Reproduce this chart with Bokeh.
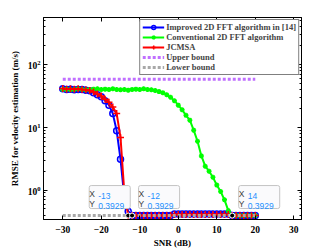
from bokeh.plotting import figure
from bokeh.models import (Range1d, FixedTicker, LinearAxis, LogAxis, Label,
                          CustomJSTickFormatter)
from bokeh.embed import file_html
from bokeh.resources import INLINE

# ---------------- data ----------------
snr = list(range(-30, 21))

improved = [41, 40, 40.5, 39.5, 40, 40, 39, 38, 35.5, 33, 30.5, 26.5, 22.5, 16.5, 8.8, 3.1, 0.75, 0.46, 0.3929,
            0.3929, 0.3929, 0.3929, 0.3929, 0.3929, 0.3929, 0.3929, 0.3929, 0.3929, 0.3929,
            0.415, 0.415, 0.415, 0.415, 0.415, 0.415, 0.415, 0.415, 0.415, 0.415, 0.415, 0.415, 0.415, 0.415, 0.415,
            0.3929, 0.3929, 0.3929, 0.3929, 0.3929, 0.3929, 0.3929]

conventional = [40, 40.5, 39.5, 40, 41, 40, 39.5, 40, 40.5, 41, 40, 40.5, 40, 41, 40, 39.5, 40, 39, 40,
                40.5, 40, 41, 40, 39.5, 38.5, 37, 35.5, 33, 30, 26.5, 22.5, 19, 15.5, 13, 9, 6, 3.5,
                2.4, 2.0, 1.6, 1.2, 0.95, 0.7, 0.47,
                0.3929, 0.3929, 0.3929, 0.3929, 0.3929, 0.3929, 0.3929]

jcmsa = [41.5, 40.5, 41, 40.5, 41, 40, 39.5, 38.5, 36.5, 34, 31.5, 28, 25, 21, 16.5, 6.9, 0.9, 0.3929,
         0.3929, 0.3929, 0.3929, 0.3929, 0.3929, 0.3929, 0.3929, 0.3929, 0.3929, 0.3929, 0.3929,
         0.41, 0.41, 0.41, 0.41, 0.41, 0.41, 0.41, 0.41, 0.41, 0.41, 0.41, 0.41, 0.41, 0.41, 0.41,
         0.3929, 0.3929, 0.3929, 0.3929, 0.3929, 0.3929, 0.3929]

bound_x = [-30, 20]
upper_bound = [58, 58]
lower_bound = [0.3929, 0.3929]

tip_x = [-13, -12, 14]
tip_y = [0.3929, 0.3929, 0.3929]

x_ticks = [-30, -20, -10, 0, 10, 20, 30]
y_major = [1, 10, 100]
y_minor = [0.4, 0.5, 0.6, 0.7, 0.8, 0.9, 2, 3, 4, 5, 6, 7, 8, 9,
           20, 30, 40, 50, 60, 70, 80, 90, 200, 300, 400, 500]

x_lim = (-35, 32)
y_lim = (0.34, 560)

labels = ["Improved 2D FFT algorithm in [14]", "Conventional 2D FFT algorithm", "JCMSA",
          "Upper bound", "Lower bound"]
x_title = "SNR (dB)"
y_title = "RMSE for velocity estimation (m/s)"

# ---------------- figure ----------------
SERIF = "Liberation Serif"
SANS = "Liberation Sans"

p = figure(width=332, height=250, x_range=Range1d(*x_lim), y_range=Range1d(*y_lim),
           y_axis_type="log", output_backend="svg", toolbar_location=None,
           min_border_left=43, min_border_right=31, min_border_top=17, min_border_bottom=0)
p.background_fill_color = "white"
p.border_fill_color = "white"
p.outline_line_color = "black"
p.outline_line_width = 1
p.xgrid.visible = False
p.ygrid.visible = False

def style_axis(ax):
    ax.axis_line_color = "black"
    ax.major_tick_in = 4
    ax.major_tick_out = 0
    ax.minor_tick_in = 2
    ax.minor_tick_out = 0
    ax.major_tick_line_color = "black"
    ax.minor_tick_line_color = "black"
    ax.major_label_text_font = SERIF
    ax.major_label_text_font_style = "bold"
    ax.major_label_text_font_size = "9.5px"
    ax.major_label_text_color = "black"
    ax.axis_label_text_font = SERIF
    ax.axis_label_text_font_style = "bold"
    ax.axis_label_text_font_size = "9px"
    ax.axis_label_text_color = "black"

xa = p.xaxis[0]
ya = p.yaxis[0]
style_axis(xa)
style_axis(ya)
xa.ticker = FixedTicker(ticks=x_ticks)
ya.ticker = FixedTicker(ticks=y_major, minor_ticks=y_minor)
xa.axis_label = x_title
ya.axis_label = y_title
xa.major_label_standoff = 6
xa.axis_label_standoff = 2
ya.major_label_standoff = 3
ya.axis_label_standoff = 5

blank = CustomJSTickFormatter(code="return ''")
top_ax = LinearAxis(ticker=FixedTicker(ticks=x_ticks), formatter=blank)
right_ax = LogAxis(ticker=FixedTicker(ticks=y_major, minor_ticks=y_minor), formatter=blank)
for ax in (top_ax, right_ax):
    style_axis(ax)
    ax.major_label_standoff = 0
    ax.major_label_text_font_size = "0px"
p.add_layout(top_ax, "above")
p.add_layout(right_ax, "right")

# ---------------- series ----------------
p.line(snr, improved, color="#0000ff", line_width=2, legend_label=labels[0])
p.scatter(snr, improved, marker="circle", size=6, fill_color=None, line_color="#0000ff",
          line_width=1.5, legend_label=labels[0])

p.line(snr, conventional, color="#00ff00", line_width=2, legend_label=labels[1])
p.scatter(snr, conventional, marker="asterisk", size=5, line_color="#00ff00",
          line_width=1.5, legend_label=labels[1])

p.line(snr, jcmsa, color="#ff0000", line_width=2, legend_label=labels[2])
p.scatter(snr, jcmsa, marker="cross", size=7, line_color="#ff0000",
          line_width=1.5, legend_label=labels[2])

p.line(bound_x, upper_bound, color="#c070ff", line_width=3, line_dash="3 2",
       legend_label=labels[3])
p.line(bound_x, lower_bound, color="#a8a8a8", line_width=3, line_dash="3 2",
       legend_label=labels[4])

# datatip markers
p.scatter(tip_x, tip_y, marker="circle", size=5, fill_color="black", line_color="white",
          line_width=1)

# ---------------- legend ----------------
lg = p.legend[0]
lg.location = "top_right"
lg.margin = 2
lg.padding = 2
lg.spacing = 0
lg.glyph_width = 22
lg.glyph_height = 10
lg.label_height = 10
lg.label_standoff = 2
lg.label_text_font = SERIF
lg.label_text_font_style = "bold"
lg.label_text_font_size = "8.5px"
lg.label_text_line_height = 1.0
lg.border_line_color = "black"
lg.border_line_width = 1
lg.background_fill_color = "white"
lg.background_fill_alpha = 1

# ---------------- datatips ----------------
TIP_FS = "8.5px"
TIP_BG = "#fafafc"
ROW = 9.5         # row spacing in px
KEY_W = 9         # width of "X " / "Y " in px
tip_dx = [-39, 6.5, 6.5]
tip_dy = [7, 7, 7]
for tx, ty, dx, dy in zip(tip_x, tip_y, tip_dx, tip_dy):
    common = dict(x=tx, y=ty, x_units="data", y_units="data", text_font=SANS,
                  text_font_size=TIP_FS, text_align="left", text_baseline="bottom")
    ytxt = f"{ty:.4f}"
    # box (text drawn in the box colour, so only the box shows)
    p.add_layout(Label(text="Y " + ytxt, text_color=TIP_BG, x_offset=dx, y_offset=dy,
                       background_fill_color=TIP_BG, border_line_color="#c4c4c4",
                       border_line_width=1, border_radius=2,
                       padding=dict(left=4, right=3, top=11, bottom=2), **common))
    p.add_layout(Label(text="X", text_color="#404040", x_offset=dx, y_offset=dy + ROW, **common))
    p.add_layout(Label(text=f"{tx:g}", text_color="#1e90ff", x_offset=dx + KEY_W,
                       y_offset=dy + ROW, **common))
    p.add_layout(Label(text="Y", text_color="#404040", x_offset=dx, y_offset=dy, **common))
    p.add_layout(Label(text=ytxt, text_color="#1e90ff", x_offset=dx + KEY_W,
                       y_offset=dy, **common))

open("out.html", "w").write(file_html(p, INLINE))
